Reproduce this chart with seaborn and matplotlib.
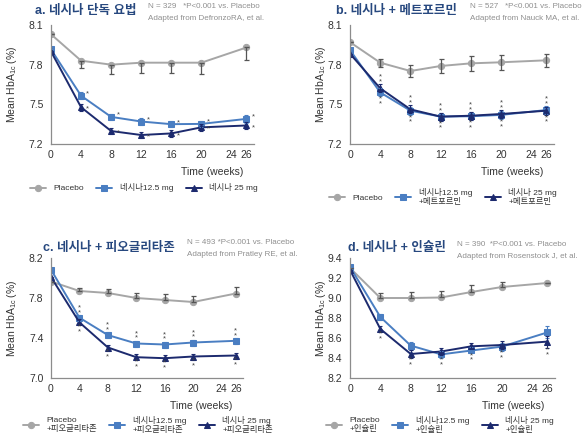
import matplotlib
matplotlib.use("Agg")
import matplotlib.pyplot as plt
import seaborn as sns

# weeks at which HbA1c was measured
weeks = [0, 4, 8, 12, 16, 20, 26]

# a. monotherapy
a_placebo = [8.03, 7.83, 7.80, 7.815, 7.815, 7.815, 7.93]
a_12 = [7.915, 7.565, 7.405, 7.37, 7.35, 7.352, 7.39]
a_25 = [7.90, 7.478, 7.298, 7.268, 7.28, 7.326, 7.34]
a_placebo_lo = [0, 0.055, 0.068, 0.08, 0.08, 0.085, 0.095]
a_placebo_hi = [0, 0, 0, 0, 0, 0, 0]
a_drug_err = [0, 0.025, 0.025, 0.025, 0.025, 0.025, 0.03]

# b. + metformin
b_placebo = [7.97, 7.815, 7.752, 7.79, 7.81, 7.818, 7.833]
b_12 = [7.91, 7.59, 7.452, 7.407, 7.41, 7.42, 7.457]
b_25 = [7.883, 7.621, 7.462, 7.407, 7.414, 7.427, 7.452]
b_placebo_lo = [0, 0.03, 0.045, 0.05, 0.055, 0.055, 0.05]
b_placebo_hi = [0, 0.03, 0.045, 0.05, 0.055, 0.055, 0.05]
b_drug_err = [0, 0.03, 0.03, 0.03, 0.03, 0.03, 0.03]

# c. + pioglitazone
c_placebo = [7.965, 7.87, 7.85, 7.80, 7.78, 7.76, 7.845]
c_12 = [8.083, 7.603, 7.429, 7.345, 7.335, 7.355, 7.372]
c_25 = [8.009, 7.556, 7.305, 7.208, 7.198, 7.215, 7.225]
c_placebo_lo = [0, 0, 0, 0, 0, 0, 0]
c_placebo_hi = [0, 0.035, 0.045, 0.055, 0.06, 0.065, 0.065]
c_drug_err = [0, 0.03, 0.03, 0.03, 0.03, 0.03, 0.03]

# d. + insulin
d_placebo = [9.30, 9.0, 9.0, 9.005, 9.06, 9.11, 9.15]
d_12 = [9.31, 8.81, 8.524, 8.436, 8.475, 8.514, 8.656]
d_25 = [9.28, 8.69, 8.44, 8.465, 8.517, 8.53, 8.564]
d_placebo_lo = [0, 0, 0, 0, 0, 0, 0]
d_placebo_hi = [0, 0.045, 0.06, 0.065, 0.07, 0.045, 0]
d_drug_err = [0, 0.03, 0.04, 0.035, 0.03, 0.04, 0.06]

titles = ["a. 네시나 단독 요법", "b. 네시나 + 메트포르민",
          "c. 네시나 + 피오글리타존", "d. 네시나 + 인슐린"]
notes = [("N = 329   *P<0.001 vs. Placebo", "Adapted from DefronzoRA, et al."),
         ("N = 527   *P<0.001 vs. Placebo", "Adapted from Nauck MA, et al."),
         ("N = 493 *P<0.001 vs. Placebo", "Adapted from Pratley RE, et al."),
         ("N = 390  *P<0.001 vs. Placebo", "Adapted from Rosenstock J, et al.")]
legend_labels = [["Placebo", "네시나12.5 mg", "네시나 25 mg"],
                 ["Placebo", "네시나12.5 mg\n+메트포르민", "네시나 25 mg\n+메트포르민"],
                 ["Placebo\n+피오글리타존", "네시나12.5 mg\n+피오글리타존", "네시나 25 mg\n+피오글리타존"],
                 ["Placebo\n+인슐린", "네시나12.5 mg\n+인슐린", "네시나 25 mg\n+인슐린"]]
y_major = [[7.2, 7.5, 7.8, 8.1], [7.2, 7.5, 7.8, 8.1],
           [7.0, 7.4, 7.8, 8.2], [8.2, 8.4, 8.6, 8.8, 9.0, 9.2, 9.4]]
y_minor = [[7.35, 7.65, 7.95], [7.35, 7.65, 7.95], [7.2, 7.6, 8.0], []]
x_major = [0, 4, 8, 12, 16, 20, 24, 26]
x_minor = [2, 6, 10, 14, 18, 22]

GRAY = "#a6a6a6"
BLUE = "#4a7ec2"
NAVY = "#1c2a6e"
TITLE = "#27487f"

sns.set_style("white")
plt.rcParams["font.family"] = ["Liberation Sans", "Noto Sans CJK KR"]

fig = plt.figure(figsize=(5.82, 4.46), dpi=100)
W, H = 582.0, 446.0

# layout in pixels: (axes left, axes right, axes top, axes bottom)
boxes = [(51, 254, 25, 144), (350, 554, 25, 144),
         (51, 243, 258, 378), (350, 555, 258, 378)]
title_pos = [(35, 11), (336, 11), (43, 248), (348, 248)]
note_pos = [(148, 7), (470, 7), (187, 243), (457, 244)]
legend_pos = [(30, 188), (329, 197), (23, 425), (326, 425)]
ylabel_x = [12, 321, 12, 321]

panels = [
    (a_placebo, a_12, a_25, a_placebo_lo, a_placebo_hi, a_drug_err),
    (b_placebo, b_12, b_25, b_placebo_lo, b_placebo_hi, b_drug_err),
    (c_placebo, c_12, c_25, c_placebo_lo, c_placebo_hi, c_drug_err),
    (d_placebo, d_12, d_25, d_placebo_lo, d_placebo_hi, d_drug_err),
]


def star(ax, x, y, txt, ha="center"):
    ax.text(x, y, txt, fontsize=5.5, color="#444444", ha=ha, va="center",
            linespacing=0.55)


def add_stars(ax, i, v12, v25, err):
    for k in range(1, len(weeks)):
        w = weeks[k]
        top = max(v12[k], v25[k]) + err[k]
        bot = min(v12[k], v25[k]) - err[k]
        if i == 0:
            star(ax, w + 0.7, v12[k] + 0.012, "*", ha="left")
            star(ax, w + 0.7, v25[k] - 0.015, "*", ha="left")
        elif i == 1:
            star(ax, w, top + 0.035, "*\n*")
            star(ax, w, bot - 0.04, "*\n*")
        elif i == 2:
            star(ax, w, v12[k] + err[k] + 0.045, "*\n*")
            star(ax, w, v25[k] - err[k] - 0.04, "*\n*")
        else:
            star(ax, w, bot - 0.045, "*\n*")


for i, (pl, v12, v25, plo, phi, derr) in enumerate(panels):
    l, r, t, b = boxes[i]
    ax = fig.add_axes([l / W, 1 - b / H, (r - l) / W, (b - t) / H])

    sns.lineplot(x=weeks, y=pl, ax=ax, color=GRAY, marker="o", markersize=4.5,
                 markeredgecolor=GRAY, linewidth=1.4, label=legend_labels[i][0])
    sns.lineplot(x=weeks, y=v12, ax=ax, color=BLUE, marker="s", markersize=4.5,
                 markeredgecolor=BLUE, linewidth=1.4, label=legend_labels[i][1])
    sns.lineplot(x=weeks, y=v25, ax=ax, color=NAVY, marker="^", markersize=4.5,
                 markeredgecolor=NAVY, linewidth=1.4, label=legend_labels[i][2])

    ax.errorbar(weeks, pl, yerr=[plo, phi], fmt="none", ecolor="#555555",
                elinewidth=0.9, capsize=1.8, capthick=0.9)
    ax.errorbar(weeks, v12, yerr=[derr, derr], fmt="none", ecolor=BLUE,
                elinewidth=0.8, capsize=1.5, capthick=0.8)
    ax.errorbar(weeks, v25, yerr=[derr, derr], fmt="none", ecolor=NAVY,
                elinewidth=0.8, capsize=1.5, capthick=0.8)
    add_stars(ax, i, v12, v25, derr)

    ax.set_xlim(0, 27)
    ax.set_ylim(y_major[i][0], y_major[i][-1])
    ax.set_xticks(x_major)
    ax.set_xticks(x_minor, minor=True)
    ax.set_yticks(y_major[i])
    ax.set_yticks(y_minor[i], minor=True)
    ax.set_yticklabels([f"{v:.1f}" for v in y_major[i]])
    ax.tick_params(axis="both", which="both", labelsize=7.5, colors="#808080",
                   labelcolor="#333333", width=0.8)
    ax.tick_params(axis="x", which="both", direction="in", length=3, pad=4)
    ax.tick_params(axis="y", which="both", direction="out", length=3.5, pad=2)
    for s in ["top", "right"]:
        ax.spines[s].set_visible(False)
    for s in ["left", "bottom"]:
        ax.spines[s].set_color("#8c8c8c")
        ax.spines[s].set_linewidth(0.9)
    ax.set_xlabel("")
    ax.set_ylabel("")

    # labels and annotations
    cy = 1 - (t + b) / 2 / H
    fig.text(ylabel_x[i] / W, cy, "Mean HbA$_{\\mathregular{1c}}$ (%)", rotation=90,
             ha="center", va="center", fontsize=7.5, color="#333333")
    fig.text(r / W - 11 / W, 1 - (b + 28) / H, "Time (weeks)", ha="right",
             va="center", fontsize=7.5, color="#333333")
    tx, ty = title_pos[i]
    fig.text(tx / W, 1 - ty / H, titles[i], fontsize=9, fontweight="bold",
             color=TITLE, ha="left", va="center")
    nx, ny = note_pos[i]
    fig.text(nx / W, 1 - ny / H, notes[i][0], fontsize=5.8, color="#8f8f8f",
             ha="left", va="center")
    fig.text(nx / W, 1 - (ny + 12) / H, notes[i][1], fontsize=5.8, color="#8f8f8f",
             ha="left", va="center")

    handles, labels = ax.get_legend_handles_labels()
    lx, ly = legend_pos[i]
    ax.legend(handles[:3], labels[:3], ncol=3, loc="center left",
              bbox_to_anchor=(lx / W, 1 - ly / H), bbox_transform=fig.transFigure,
              frameon=False, fontsize=6, handlelength=1.9, handletextpad=0.9,
              columnspacing=1.5, borderpad=0, borderaxespad=0, labelcolor="#333333")

fig.savefig("out.png", dpi=100)
